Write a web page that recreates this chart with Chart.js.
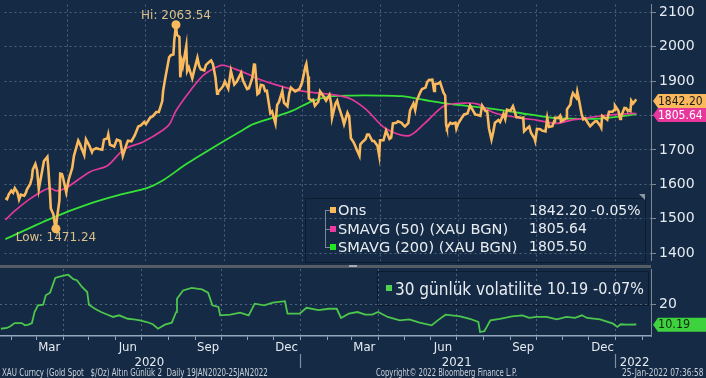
<!DOCTYPE html>
<html><head><meta charset="utf-8">
<script src="https://cdn.jsdelivr.net/npm/chart.js@4.4.1/dist/chart.umd.min.js"></script>
<style>
html,body{margin:0;padding:0;background:#142a45;width:706px;height:378px;overflow:hidden;}
#wrap{position:relative;width:706px;height:378px;background:#142a45;font-family:"DejaVu Sans",sans-serif;}
.abs{position:absolute;}
.lg{position:absolute;white-space:nowrap;color:#e9edf2;}
.ft{position:absolute;font-family:"DejaVu Sans Condensed","DejaVu Sans",sans-serif;font-size:10px;line-height:11px;color:#c9d0d9;white-space:nowrap;transform-origin:0 0;}
</style></head><body>
<div id="wrap">
  <div class="abs" style="left:0;top:0;width:706px;height:265px;"><canvas id="c1" width="706" height="265"></canvas></div>
  <div class="abs" style="left:0;top:265px;width:651px;height:3px;background:#565c64;"></div>
  <div class="abs" style="left:349px;top:265px;width:8px;height:2px;background:#a4abb3;"></div>
  <div class="abs" style="left:0;top:268px;width:706px;height:110px;"><canvas id="c2" width="706" height="110"></canvas></div>

  <div id="leg1" class="abs" style="left:305px;top:198px;width:339px;height:63px;border:1px solid #0c1c30;"></div>
  <div class="abs" style="left:639px;top:194px;width:0;height:0;border-left:6px solid transparent;border-top:6px solid #8a96a4;"></div>
  <div id="leg2" class="abs" style="left:377px;top:271px;width:270px;height:33px;border:1px solid #0c1c30;"></div>

  <div class="ft" id="f1" style="left:2px;top:367px;">XAU Curncy (Gold Spot&nbsp;&nbsp; $/Oz) Altın Günlük 2&nbsp; Daily 19JAN2020-25JAN2022</div>
  <div class="ft" id="f2" style="left:376px;top:367px;">Copyright© 2022 Bloomberg Finance L.P.</div>
  <div class="ft" id="f3" style="left:622px;top:367px;">25-Jan-2022 07:36:58</div>
</div>
<script>
// ---------------- DATA ----------------
const gold = [
["2020-01-20",1560],["2020-01-22",1557],["2020-01-24",1571],["2020-01-27",1582],["2020-01-29",1576],["2020-01-31",1589],
["2020-02-03",1577],["2020-02-05",1556],["2020-02-07",1570],["2020-02-11",1567],["2020-02-13",1576],["2020-02-14",1584],
["2020-02-18",1601],["2020-02-20",1620],["2020-02-21",1643],["2020-02-24",1659],["2020-02-26",1641],["2020-02-28",1586],
["2020-03-03",1640],["2020-03-05",1668],["2020-03-09",1680],["2020-03-10",1650],["2020-03-12",1576],["2020-03-13",1530],
["2020-03-16",1513],["2020-03-18",1478],["2020-03-19",1471.24],["2020-03-20",1498],["2020-03-23",1553],["2020-03-24",1631],
["2020-03-26",1630],["2020-03-27",1622],["2020-03-31",1577],["2020-04-01",1591],["2020-04-03",1615],["2020-04-07",1648],
["2020-04-09",1683],["2020-04-14",1727],["2020-04-16",1717],["2020-04-21",1685],["2020-04-23",1731],["2020-04-27",1712],
["2020-04-30",1694],["2020-05-01",1700],["2020-05-05",1705],["2020-05-08",1703],["2020-05-12",1701],["2020-05-14",1730],
["2020-05-18",1734],["2020-05-19",1745],["2020-05-21",1715],["2020-05-26",1710],["2020-05-29",1730],["2020-06-02",1726],
["2020-06-05",1683],["2020-06-09",1714],["2020-06-11",1727],["2020-06-15",1725],["2020-06-19",1743],["2020-06-23",1768],
["2020-06-26",1771],["2020-06-30",1781],["2020-07-02",1775],["2020-07-07",1794],["2020-07-10",1798],["2020-07-14",1810],
["2020-07-17",1810],["2020-07-21",1842],["2020-07-22",1871],["2020-07-24",1902],["2020-07-27",1942],["2020-07-29",1969],
["2020-07-31",1975],["2020-08-03",1977],["2020-08-04",2018],["2020-08-06",2063.54],["2020-08-07",2035],["2020-08-10",2028],
["2020-08-11",1911],["2020-08-13",1955],["2020-08-14",1944],["2020-08-18",2002],["2020-08-19",1929],["2020-08-21",1940],
["2020-08-25",1908],["2020-08-27",1929],["2020-08-31",1968],["2020-09-02",1944],["2020-09-04",1934],["2020-09-08",1931],
["2020-09-10",1947],["2020-09-14",1956],["2020-09-16",1960],["2020-09-18",1950],["2020-09-21",1911],["2020-09-23",1863],
["2020-09-24",1868],["2020-09-28",1879],["2020-09-30",1886],["2020-10-02",1899],["2020-10-06",1878],["2020-10-09",1930],
["2020-10-13",1890],["2020-10-16",1899],["2020-10-21",1924],["2020-10-23",1902],["2020-10-28",1877],["2020-10-30",1879],
["2020-11-03",1909],["2020-11-05",1948],["2020-11-06",1951],["2020-11-09",1862],["2020-11-11",1866],["2020-11-13",1889],
["2020-11-16",1887],["2020-11-18",1871],["2020-11-20",1872],["2020-11-24",1807],["2020-11-26",1812],["2020-11-30",1777],
["2020-12-02",1831],["2020-12-04",1839],["2020-12-08",1871],["2020-12-10",1837],["2020-12-14",1827],["2020-12-16",1863],
["2020-12-18",1881],["2020-12-21",1874],["2020-12-23",1870],["2020-12-28",1877],["2020-12-31",1895],["2021-01-04",1943],
["2021-01-05",1950],["2021-01-07",1913],["2021-01-08",1849],["2021-01-11",1844],["2021-01-13",1846],["2021-01-15",1828],
["2021-01-19",1840],["2021-01-21",1870],["2021-01-25",1856],["2021-01-28",1843],["2021-02-01",1860],["2021-02-03",1834],
["2021-02-04",1793],["2021-02-08",1834],["2021-02-10",1843],["2021-02-12",1824],["2021-02-16",1794],["2021-02-18",1775],
["2021-02-22",1808],["2021-02-24",1797],["2021-02-26",1734],["2021-03-01",1723],["2021-03-03",1712],["2021-03-05",1700],
["2021-03-08",1683],["2021-03-09",1716],["2021-03-11",1722],["2021-03-15",1731],["2021-03-17",1745],["2021-03-19",1745],
["2021-03-23",1726],["2021-03-25",1726],["2021-03-29",1712],["2021-03-31",1684],["2021-04-01",1728],["2021-04-05",1728],
["2021-04-08",1756],["2021-04-12",1732],["2021-04-14",1736],["2021-04-16",1777],["2021-04-20",1779],["2021-04-22",1783],
["2021-04-26",1779],["2021-04-28",1773],["2021-04-30",1768],["2021-05-04",1778],["2021-05-06",1815],["2021-05-10",1835],
["2021-05-12",1816],["2021-05-14",1844],["2021-05-18",1868],["2021-05-20",1877],["2021-05-24",1881],["2021-05-26",1897],
["2021-05-28",1903],["2021-06-01",1904],["2021-06-03",1871],["2021-06-04",1891],["2021-06-08",1893],["2021-06-10",1897],
["2021-06-14",1866],["2021-06-16",1858],["2021-06-17",1774],["2021-06-18",1764],["2021-06-22",1779],["2021-06-24",1776],
["2021-06-28",1779],["2021-06-29",1762],["2021-07-01",1776],["2021-07-06",1796],["2021-07-08",1803],["2021-07-12",1806],
["2021-07-15",1829],["2021-07-19",1812],["2021-07-21",1803],["2021-07-23",1802],["2021-07-27",1799],["2021-07-29",1829],
["2021-08-02",1813],["2021-08-04",1812],["2021-08-06",1763],["2021-08-09",1730],["2021-08-11",1752],["2021-08-13",1779],
["2021-08-17",1787],["2021-08-19",1781],["2021-08-23",1805],["2021-08-25",1790],["2021-08-27",1817],["2021-08-31",1814],
["2021-09-03",1827],["2021-09-07",1795],["2021-09-09",1795],["2021-09-13",1793],["2021-09-15",1794],["2021-09-16",1754],
["2021-09-20",1764],["2021-09-22",1768],["2021-09-24",1750],["2021-09-28",1734],["2021-09-29",1726],["2021-10-01",1761],
["2021-10-05",1760],["2021-10-07",1756],["2021-10-11",1754],["2021-10-13",1793],["2021-10-15",1767],["2021-10-19",1769],
["2021-10-21",1783],["2021-10-22",1793],["2021-10-26",1793],["2021-10-28",1799],["2021-10-29",1783],["2021-11-02",1788],
["2021-11-04",1792],["2021-11-05",1818],["2021-11-09",1832],["2021-11-10",1849],["2021-11-12",1865],["2021-11-16",1851],
["2021-11-17",1869],["2021-11-19",1846],["2021-11-22",1805],["2021-11-24",1789],["2021-11-26",1792],["2021-11-30",1776],
["2021-12-02",1769],["2021-12-06",1779],["2021-12-08",1783],["2021-12-10",1783],["2021-12-14",1770],["2021-12-15",1765],
["2021-12-16",1799],["2021-12-20",1792],["2021-12-22",1788],["2021-12-24",1811],["2021-12-28",1811],["2021-12-30",1816],
["2021-12-31",1829],["2022-01-04",1814],["2022-01-06",1790],["2022-01-07",1797],["2022-01-11",1822],["2022-01-13",1821],
["2022-01-14",1817],["2022-01-18",1813],["2022-01-19",1843],["2022-01-21",1835],["2022-01-24",1844],["2022-01-25",1842.20]
];
const sma50 = [
["2020-01-20",1497],["2020-02-01",1525],["2020-02-19",1560],["2020-03-11",1589],["2020-03-20",1581],["2020-03-31",1590],
["2020-04-28",1637],["2020-05-18",1654],["2020-06-06",1701],["2020-06-29",1724],["2020-07-22",1758],["2020-07-30",1777],
["2020-08-06",1814],["2020-08-22",1870],["2020-09-07",1917],["2020-09-22",1940],["2020-09-30",1946],["2020-10-15",1934],
["2020-11-01",1917],["2020-11-04",1912],["2020-11-27",1892],["2020-12-20",1876],["2021-01-12",1867],["2021-02-04",1861],
["2021-02-24",1850],["2021-03-15",1819],["2021-04-07",1763],["2021-05-04",1741],["2021-05-23",1777],["2021-06-15",1828],
["2021-07-08",1836],["2021-07-24",1833],["2021-08-12",1808],["2021-09-09",1794],["2021-10-02",1786],["2021-10-25",1777],
["2021-11-09",1786],["2021-11-24",1791],["2021-12-18",1800],["2022-01-21",1806],["2022-01-25",1805.64]
];
const sma200 = [
["2020-01-20",1441],["2020-03-17",1505],["2020-04-25",1542],["2020-06-02",1570],["2020-07-03",1589],["2020-07-22",1612],
["2020-08-18",1659],["2020-09-15",1702],["2020-10-23",1758],["2020-11-04",1775],["2020-11-27",1794],["2020-12-20",1814],
["2021-01-12",1842],["2021-02-04",1856],["2021-02-27",1858],["2021-03-30",1858],["2021-04-26",1856],["2021-05-23",1845],
["2021-06-23",1833],["2021-08-01",1822],["2021-09-09",1808],["2021-10-17",1794],["2021-11-05",1791],["2021-12-14",1791],
["2022-01-23",1803],["2022-01-25",1805.50]
];
const vol30 = [
["2020-01-20",8.2],["2020-01-27",8.6],["2020-01-31",9.4],["2020-02-05",11.0],["2020-02-13",11.0],["2020-02-17",9.9],
["2020-02-21",10.2],["2020-02-25",11.0],["2020-02-28",16.4],["2020-03-03",19.7],["2020-03-09",20.0],["2020-03-12",24.6],
["2020-03-17",25.9],["2020-03-23",33.1],["2020-03-27",33.6],["2020-04-03",34.4],["2020-04-07",34.7],["2020-04-13",32.5],
["2020-04-17",32.0],["2020-04-23",28.7],["2020-04-29",26.2],["2020-05-01",20.0],["2020-05-08",18.0],["2020-05-15",16.4],
["2020-05-22",15.2],["2020-05-29",14.0],["2020-06-05",14.8],["2020-06-15",13.1],["2020-06-22",12.8],["2020-06-29",12.3],
["2020-07-07",11.5],["2020-07-14",10.4],["2020-07-20",8.2],["2020-07-28",10.2],["2020-08-05",11.2],["2020-08-10",16.4],
["2020-08-11",22.9],["2020-08-18",27.0],["2020-08-28",28.2],["2020-09-09",27.5],["2020-09-16",25.9],["2020-09-21",19.7],
["2020-09-28",18.9],["2020-09-30",14.8],["2020-10-12",15.1],["2020-10-23",16.1],["2020-11-02",14.8],["2020-11-09",20.5],
["2020-11-20",19.7],["2020-11-30",21.0],["2020-12-14",21.7],["2020-12-17",15.6],["2020-12-31",15.6],["2021-01-08",18.5],
["2021-01-22",17.3],["2021-02-03",18.0],["2021-02-12",18.0],["2021-02-17",13.5],["2021-02-26",15.6],["2021-03-08",16.4],
["2021-03-17",15.1],["2021-03-25",15.1],["2021-04-01",16.4],["2021-04-12",14.0],["2021-04-26",12.3],["2021-05-07",12.8],
["2021-05-19",11.2],["2021-06-02",9.9],["2021-06-09",12.3],["2021-06-18",15.1],["2021-07-05",14.3],["2021-07-16",13.1],
["2021-07-26",11.5],["2021-07-28",6.6],["2021-08-02",7.0],["2021-08-09",12.3],["2021-08-20",13.1],["2021-09-03",14.3],
["2021-09-15",14.8],["2021-09-23",13.5],["2021-10-01",14.0],["2021-10-13",14.0],["2021-10-25",12.8],["2021-11-05",14.0],
["2021-11-15",13.5],["2021-11-23",14.8],["2021-11-29",13.5],["2021-12-14",12.8],["2021-12-29",10.7],["2022-01-03",9.1],
["2022-01-07",10.4],["2022-01-14",10.2],["2022-01-24",10.3],["2022-01-25",10.19]
];
const hiPoint = ["2020-08-06",2063.54];
const lowPoint = ["2020-03-19",1471.24];
const goldChangePct = -0.05;
const volChangePct = -0.07;
const legendNames = ["Ons","SMAVG (50) (XAU BGN)","SMAVG (200) (XAU BGN)"];
const volName = "30 günlük volatilite";
const xRange = ["2020-01-19","2022-02-11"];
const priceTicks = [1400,1500,1600,1700,1800,1900,2000,2100];
const priceRange = [1378.9,2122.4];
const volTicks = [20];
const volRange = [4.65,37.5];
const quarterStarts = ["2020-04-01","2020-07-01","2020-10-01","2021-01-01","2021-04-01","2021-07-01","2021-10-01","2022-01-01"];
const monthStarts = ["2020-02-01","2020-03-01","2020-04-01","2020-05-01","2020-06-01","2020-07-01","2020-08-01","2020-09-01","2020-10-01","2020-11-01","2020-12-01","2021-01-01","2021-02-01","2021-03-01","2021-04-01","2021-05-01","2021-06-01","2021-07-01","2021-08-01","2021-09-01","2021-10-01","2021-11-01","2021-12-01","2022-01-01","2022-02-01"];
const monthLabelDates = ["2020-03-16","2020-06-15","2020-09-16","2020-12-16","2021-03-16","2021-06-15","2021-09-16","2021-12-17"];
const monthLabels = ["Mar","Jun","Sep","Dec","Mar","Jun","Sep","Dec"];
const yearLabelDates = ["2020-07-10","2021-07-01","2022-01-23"];
const yearLabels = ["2020","2021","2022"];
const yearSeparators = ["2021-01-01","2022-01-01"];

// ---------------- STYLE ----------------
const C_GOLD = "#f9b95c", C_MAG = "#e2399b", C_GRN = "#36e236", C_VOL = "#4cc64c";
const GRID = "rgba(150,168,190,0.45)";
const AXIS = "#808891";
const XAXIS = "#93a6bb";
const TXT = "#e6ebf1";
const FONT = '"DejaVu Sans", sans-serif';
const FONT_C = '"DejaVu Sans Condensed", "DejaVu Sans", sans-serif';

const BASE = Date.UTC(2020,0,19);
function dayOf(s){const p=s.split('-').map(Number);return (Date.UTC(p[0],p[1]-1,p[2])-BASE)/86400000;}
const pts = arr => arr.map(a=>({x:dayOf(a[0]), y:a[1]}));
const qSet = new Set(quarterStarts.map(dayOf));
const last = arr => arr[arr.length-1][1];

function zeroPad(s){s.paddingTop=0;s.paddingBottom=0;s.paddingLeft=0;s.paddingRight=0;}

function badge(ctx, xl, yc, h, text, bg, fg, font){
  ctx.save();
  ctx.fillStyle = bg;
  ctx.beginPath();
  ctx.moveTo(xl, yc);
  ctx.lineTo(xl+5, yc-h/2);
  ctx.lineTo(706, yc-h/2);
  ctx.lineTo(706, yc+h/2);
  ctx.lineTo(xl+5, yc+h/2);
  ctx.closePath(); ctx.fill();
  ctx.fillStyle = fg; ctx.font = font; ctx.textAlign='left'; ctx.textBaseline='middle';
  ctx.fillText(text, xl+5, yc+0.5);
  ctx.restore();
}

const topDecor = {
  id:'topDecor',
  afterDatasetsDraw(chart){
    const {ctx, scales:{x,y}} = chart;
    ctx.save();
    ctx.font = '12px '+FONT; ctx.fillStyle = '#dcc08a';
    ctx.textAlign='center'; ctx.textBaseline='middle';
    ctx.fillText('Hi: '+hiPoint[1].toFixed(2), x.getPixelForValue(dayOf(hiPoint[0])), y.getPixelForValue(hiPoint[1])-9);
    ctx.fillText('Low: '+lowPoint[1].toFixed(2), x.getPixelForValue(dayOf(lowPoint[0])), y.getPixelForValue(lowPoint[1])+9);
    ctx.restore();
  },
  afterDraw(chart){
    const {ctx, scales:{y}, chartArea} = chart;
    const xl = chartArea.right + 2, h = 14;
    const y1 = y.getPixelForValue(last(gold));
    let y2 = y.getPixelForValue(last(sma50));
    if (y2 < y1 + h) y2 = y1 + h;
    badge(ctx, xl, y1, h, last(gold).toFixed(2), C_GOLD, '#1b1b1b', '12px '+FONT_C);
    badge(ctx, xl, y2, h, last(sma50).toFixed(2), '#e8379c', '#ffffff', '12px '+FONT_C);
  }
};
const botDecor = {
  id:'botDecor',
  afterDraw(chart){
    const {ctx, scales:{y}, chartArea} = chart;
    badge(ctx, chartArea.right+2, y.getPixelForValue(last(vol30)), 14, last(vol30).toFixed(2), '#3fd23f', '#0f2a10', '12.5px '+FONT_C);
  }
};

const xMin = dayOf(xRange[0]), xMax = dayOf(xRange[1]);

new Chart(document.getElementById('c1'), {
  type:'line',
  data:{datasets:[
    {data:pts([hiPoint,lowPoint]), showLine:false, pointRadius:4.5, pointBackgroundColor:C_GOLD, pointBorderWidth:0},
    {data:pts(gold), borderColor:C_GOLD, borderWidth:2.6, pointRadius:0, tension:0},
    {data:pts(sma50), borderColor:C_MAG, borderWidth:1.7, pointRadius:0, tension:0.3},
    {data:pts(sma200), borderColor:C_GRN, borderWidth:1.8, pointRadius:0, tension:0.3}
  ]},
  options:{
    responsive:false, animation:false, devicePixelRatio:1,
    layout:{padding:0},
    plugins:{legend:{display:false}, tooltip:{enabled:false}},
    scales:{
      x:{type:'linear', min:xMin, max:xMax,
        afterBuildTicks:s=>{s.ticks = quarterStarts.map(d=>({value:dayOf(d)}));},
        grid:{color:GRID, drawTicks:false}, border:{display:false, dash:[2,3]},
        ticks:{display:false},
        afterFit:s=>{s.height=0; zeroPad(s);}
      },
      y:{type:'linear', position:'right', min:priceRange[0], max:priceRange[1],
        afterBuildTicks:s=>{s.ticks = priceTicks.map(v=>({value:v}));},
        grid:{color:GRID, tickColor:AXIS, tickLength:5}, border:{color:AXIS, width:1, dash:[2,3]},
        ticks:{color:TXT, font:{family:FONT, size:14}, padding:3, callback:v=>String(v)},
        afterFit:s=>{s.width=55; zeroPad(s);}
      }
    }
  },
  plugins:[topDecor]
});

const allYearTicks = yearSeparators.map(d=>({value:dayOf(d)})).concat(yearLabelDates.map(d=>({value:dayOf(d)}))).sort((a,b)=>a.value-b.value);
const sepSet = new Set(yearSeparators.map(dayOf));
const mLab = new Map(monthLabelDates.map((d,i)=>[dayOf(d), monthLabels[i]]));
const yLab = new Map(yearLabelDates.map((d,i)=>[dayOf(d), yearLabels[i]]));

new Chart(document.getElementById('c2'), {
  type:'line',
  data:{datasets:[
    {data:pts(vol30), borderColor:C_VOL, borderWidth:1.8, pointRadius:0, tension:0}
  ]},
  options:{
    responsive:false, animation:false, devicePixelRatio:1,
    layout:{padding:{top:1, bottom:11, left:0, right:0}},
    plugins:{legend:{display:false}, tooltip:{enabled:false}},
    scales:{
      x:{type:'linear', position:'bottom', min:xMin, max:xMax,
        afterBuildTicks:s=>{s.ticks = monthStarts.map(d=>({value:dayOf(d)}));},
        grid:{color:c=>(c.tick && qSet.has(c.tick.value))?GRID:'rgba(0,0,0,0)', tickColor:XAXIS, tickLength:4},
        border:{color:XAXIS, width:1.5, dash:[2,3]},
        ticks:{display:false},
        afterFit:s=>{s.height=4; zeroPad(s);}
      },
      xm:{type:'linear', position:'bottom', min:xMin, max:xMax,
        afterBuildTicks:s=>{s.ticks = monthLabelDates.map(d=>({value:dayOf(d)}));},
        grid:{display:false, drawTicks:false}, border:{display:false},
        ticks:{color:TXT, font:{family:FONT_C, size:13}, padding:0, autoSkip:false, maxRotation:0, callback:v=>mLab.get(v)||''},
        afterFit:s=>{s.height=14; zeroPad(s);}
      },
      xy:{type:'linear', position:'bottom', min:xMin, max:xMax,
        afterBuildTicks:s=>{s.ticks = allYearTicks.map(t=>({value:t.value}));},
        grid:{drawOnChartArea:false, tickLength:14, tickWidth:1.2, tickColor:c=>(c.tick && sepSet.has(c.tick.value))?'#7f90a3':'rgba(0,0,0,0)'},
        border:{display:false},
        ticks:{color:TXT, font:{family:FONT_C, size:13}, padding:-13, autoSkip:false, maxRotation:0, callback:v=>yLab.get(v)||''},
        afterFit:s=>{s.height=13; zeroPad(s);}
      },
      y:{type:'linear', position:'right', min:volRange[0], max:volRange[1],
        afterBuildTicks:s=>{s.ticks = volTicks.map(v=>({value:v}));},
        grid:{color:GRID, tickColor:AXIS, tickLength:5}, border:{color:AXIS, width:1, dash:[2,3]},
        ticks:{color:TXT, font:{family:FONT, size:14}, padding:3, callback:v=>String(v)},
        afterFit:s=>{s.width=55; zeroPad(s);}
      }
    }
  },
  plugins:[botDecor]
});

// ---------------- LEGENDS (HTML text) ----------------
const wrap = document.getElementById('wrap');
function addText(txt, left, cy, size, fam, color){
  const d = document.createElement('div');
  d.className='lg'; d.textContent=txt;
  d.style.left=left+'px'; d.style.top=(cy - size*0.6)+'px';
  d.style.fontSize=size+'px'; d.style.lineHeight=(size*1.2)+'px'; d.style.fontFamily=fam;
  if(color) d.style.color=color;
  wrap.appendChild(d); return d;
}
function addBox(l,t,w,h,bg){const d=document.createElement('div');d.className='abs';d.style.cssText+=`left:${l}px;top:${t}px;width:${w}px;height:${h}px;background:${bg};`;wrap.appendChild(d);}
const rows = [210, 228.5, 246.5];
const cols = [C_GOLD, "#ec3aa0", "#22e622"];
const vals = [last(gold).toFixed(2), last(sma50).toFixed(2), last(sma200).toFixed(2)];
addBox(325, 210, 1, 37, '#7b8898');
rows.forEach((r,i)=>{
  addBox(325, Math.round(r), 5, 1, '#7b8898');
  addBox(330, Math.round(r)-3, 6, 6, cols[i]);
  addText(legendNames[i], 338, r, 14.6, FONT);
  addText(vals[i], 529, r, 14, FONT);
});
addText((goldChangePct<0?'-':'')+Math.abs(goldChangePct).toFixed(2)+'%', 591, rows[0], 14, FONT);
addBox(386, 285, 6, 6, '#4fd24f');
addText(volName, 395, 289, 17, FONT_C);
addText(last(vol30).toFixed(2), 547, 289, 16, FONT_C);
addText((volChangePct<0?'-':'')+Math.abs(volChangePct).toFixed(2)+'%', 593, 289, 16, FONT_C);

[['f1',266],['f2',141],['f3',82]].forEach(([id,w])=>{
  const el=document.getElementById(id); const cw=el.scrollWidth; if(cw>0) el.style.transform=`scaleX(${w/cw})`;
});
</script>
</body></html>
